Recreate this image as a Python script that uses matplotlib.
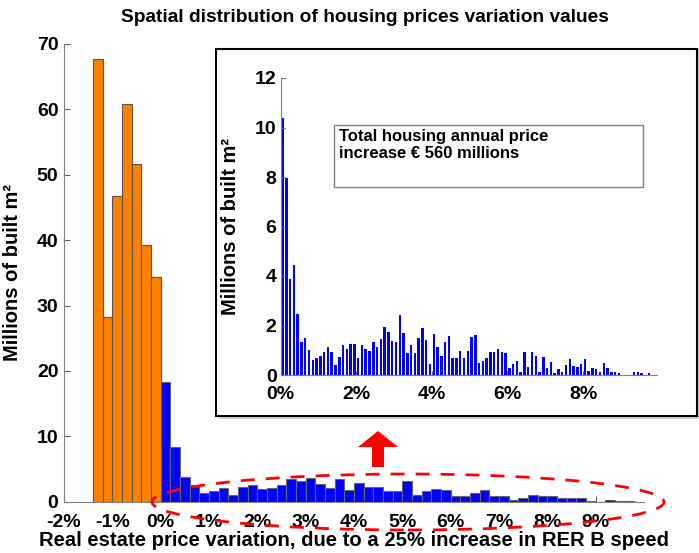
import matplotlib

matplotlib.use("Agg")
import matplotlib.pyplot as plt
from matplotlib.patches import Ellipse, Polygon, Rectangle
import numpy as np

plt.rcParams["font.family"] = ["Liberation Sans", "DejaVu Sans"]
plt.rcParams["font.weight"] = "bold"

# main histogram, 0.2 % bins
NEG_EDGES = [-1.4, -1.2, -1.0, -0.8, -0.6, -0.4, -0.2]
NEG_VALUES = [67.7, 28.2, 46.8, 60.9, 51.7, 39.2, 34.3]
POS_VALUES = [18.3, 8.4, 3.8, 2.6, 1.3, 1.7, 2.1, 1.1, 2.3, 2.6,
              1.9, 2.1, 2.5, 3.4, 3.1, 3.7, 2.7, 2.1, 3.4, 1.8,
              2.8, 2.2, 2.3, 1.7, 1.7, 3.2, 1.0, 1.6, 2.0, 1.8,
              0.8, 0.8, 1.3, 1.8, 0.9, 0.8, 0.3, 0.5, 1.0, 0.8,
              0.8, 0.6, 0.6, 0.5, 0.15, 0.0, 0.25, 0.05, 0.05]
MAIN_XTICKS = [-2, -1, 0, 1, 2, 3, 4, 5, 6, 7, 8, 9]
MAIN_YTICKS = [0, 10, 20, 30, 40, 50, 60, 70]

# inset histogram, 0.1 % bins (positive side only)
INSET_VALUES = [10.4, 7.95, 3.87, 4.45, 2.47, 1.32, 1.48, 1.01, 0.61, 0.70,
                0.78, 0.94, 1.15, 0.92, 0.40, 0.74, 1.21, 1.04, 1.24, 1.27,
                0.67, 1.21, 1.05, 0.98, 1.35, 1.15, 1.47, 1.95, 1.75, 1.37,
                1.33, 2.43, 1.68, 0.90, 1.21, 0.88, 1.48, 1.89, 1.42, 0.43,
                1.64, 1.15, 0.78, 1.35, 1.58, 0.70, 0.70, 0.98, 0.70, 0.97,
                1.55, 1.62, 0.47, 0.57, 0.70, 0.92, 0.92, 1.04, 0.92, 0.88,
                0.27, 0.43, 0.57, 0.13, 0.92, 0.34, 0.94, 0.78, 0.13, 0.74,
                0.30, 0.54, 0.07, 0.23, 0.11, 0.40, 0.65, 0.38, 0.34, 0.44,
                0.65, 0.16, 0.30, 0.23, 0.13, 0.47, 0.30, 0.11, 0.11, 0.07,
                0.0, 0.0, 0.0, 0.11, 0.13, 0.10, 0.0, 0.07]
INSET_XTICKS = [0, 2, 4, 6, 8]
INSET_YTICKS = [0, 2, 4, 6, 8, 10, 12]

ORANGE = "#FF8000"
BLUE = "#0000FF"
W, H = 699, 553


def fx(x):
    return x / W


def fy(y):
    return 1 - y / H


fig = plt.figure(figsize=(W / 100, H / 100), dpi=100)

# ---- main axes
ax = fig.add_axes([fx(64), fy(501.7), fx(644 - 64), (501.7 - 44) / H])
ax.bar(NEG_EDGES, NEG_VALUES, width=0.2, align="edge", color=ORANGE,
       edgecolor="#555555", linewidth=0.8)
pos_edges = 0.2 * np.arange(len(POS_VALUES))
ax.bar(pos_edges, POS_VALUES, width=0.2, align="edge", color=BLUE,
       edgecolor="#666666", linewidth=0.8)
ax.set_xlim(-2, 10)
ax.set_ylim(0, 70)
ax.set_xticks(MAIN_XTICKS)
ax.set_xticklabels([f"{t}%" for t in MAIN_XTICKS])
ax.set_yticks(MAIN_YTICKS)
for s in ["top", "right"]:
    ax.spines[s].set_visible(False)
for s in ["left", "bottom"]:
    ax.spines[s].set_color("#808080")
ax.tick_params(direction="in", length=4, color="#606060", labelsize=14)
ax.tick_params(axis="x", pad=9)
ax.tick_params(axis="y", pad=4)
ax.set_ylabel("Millions of built m²", fontsize=14.5, fontweight="bold")
ax.yaxis.set_label_coords(-0.072, 0.5)
ax.set_xlabel("Real estate price variation, due to a 25% increase in RER B speed",
              fontsize=14.6, fontweight="bold")
ax.xaxis.set_label_coords(0.5, -0.063)
fig.text(0.522, fy(18), "Spatial distribution of housing prices variation values",
         ha="center", va="center", fontsize=13.8, fontweight="bold")

# ---- inset frame with shadow
fig.add_artist(Rectangle((fx(219), fy(419)), fx(698 - 216), (419 - 49) / H,
                         transform=fig.transFigure, facecolor="#b0b0b0",
                         edgecolor="none", alpha=0.6, zorder=2))
fig.add_artist(Rectangle((fx(216), fy(416)), fx(697 - 216), (416 - 49) / H,
                         transform=fig.transFigure, facecolor="white",
                         edgecolor="black", linewidth=1.5, zorder=3))

# ---- inset axes
ins = fig.add_axes([fx(280.7), fy(375), fx(656.7 - 280.7), (375 - 78) / H], zorder=4)
inset_x = 0.05 + 0.1 * np.arange(len(INSET_VALUES))
ins.bar(inset_x, INSET_VALUES, width=0.065, color=BLUE, edgecolor="none")
ins.set_xlim(0, 9.95)
ins.set_ylim(0, 12)
ins.set_xticks(INSET_XTICKS)
ins.set_xticklabels([f"{t}%" for t in INSET_XTICKS])
ins.set_yticks(INSET_YTICKS)
ins.patch.set_alpha(0)
for s in ["top", "right"]:
    ins.spines[s].set_visible(False)
for s in ["left", "bottom"]:
    ins.spines[s].set_color("#808080")
ins.tick_params(direction="in", length=3, color="#606060", labelsize=14)
ins.tick_params(axis="x", pad=8)
ins.tick_params(axis="y", pad=3)
ins.set_ylabel("Millions of built m²", fontsize=14.5, fontweight="bold")
ins.yaxis.set_label_coords(-0.108, 0.5)

# text box inside inset
fig.add_artist(Rectangle((fx(334), fy(187)), fx(643 - 334), (187 - 125) / H,
                         transform=fig.transFigure, facecolor="white",
                         edgecolor="#808080", linewidth=1.0, zorder=5))
fig.text(fx(339), fy(129), "Total housing annual price\nincrease € 560 millions",
         ha="left", va="top", fontsize=12, fontweight="bold",
         linespacing=1.2, zorder=6)

# ---- red arrow and dashed ellipse
arrow_px = [(378, 431), (398, 447), (384, 447), (384, 467),
            (372, 467), (372, 447), (358, 447)]
fig.add_artist(Polygon([(fx(x), fy(y)) for x, y in arrow_px], closed=True,
                       transform=fig.transFigure, facecolor="red",
                       edgecolor="none", zorder=6))
fig.add_artist(Ellipse((fx(408), fy(502)), fx(512), 56 / H,
                       transform=fig.transFigure, facecolor="none",
                       edgecolor="red", linewidth=2, linestyle=(0, (5, 4)),
                       zorder=6))

fig.savefig("out.png", dpi=100)
